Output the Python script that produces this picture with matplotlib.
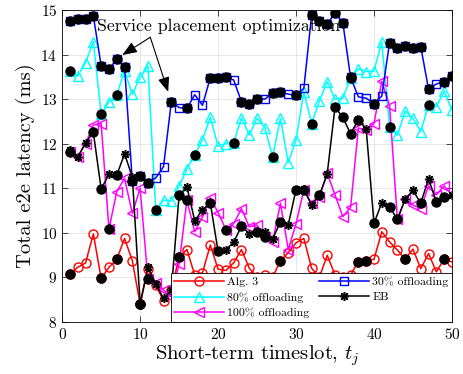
import matplotlib
matplotlib.use("Agg")
import matplotlib.pyplot as plt
import numpy as np

plt.rcParams['font.family'] = 'serif'
plt.rcParams['font.serif'] = ['cmr10', 'DejaVu Serif']
plt.rcParams['mathtext.fontset'] = 'cm'
plt.rcParams['axes.formatter.use_mathtext'] = True

# short-term timeslots
t = np.arange(1, 51)

alg3 = [9.08, 9.22, 9.32, 9.97, 8.97, 9.22, 9.40, 9.87, 9.37, 8.39,
        9.19, 8.82, 8.47, 8.70, 9.45, 9.62, 9.05, 9.10, 9.72, 9.18,
        9.15, 9.32, 9.62, 9.20, 9.00, 9.05, 9.00, 9.37, 9.55, 9.77,
        9.87, 9.20, 9.00, 9.49, 9.05, 9.00, 9.05, 9.35, 9.37, 9.40,
        10.02, 9.79, 9.61, 9.40, 9.63, 9.19, 9.53, 9.12, 9.40, 9.34]
off30 = [14.76, 14.79, 14.81, 14.87, 13.75, 13.68, 13.89, 13.73, 11.15, 11.27,
         11.12, 11.23, 11.48, 12.93, 12.81, 12.79, 13.10, 12.86, 13.48, 13.48,
         13.50, 13.43, 12.94, 12.89, 13.00, 13.00, 13.13, 13.16, 13.11, 13.09,
         13.24, 14.89, 14.75, 14.69, 14.93, 14.72, 13.49, 13.05, 13.02, 12.90,
         13.07, 14.27, 14.14, 14.20, 14.15, 14.18, 13.22, 13.34, 13.39, 13.52]
off80 = [13.63, 13.52, 13.82, 14.29, 12.66, 12.94, 13.09, 13.64, 13.11, 13.49,
         13.74, 10.51, 10.73, 10.71, 11.05, 11.43, 11.74, 12.09, 12.59, 11.94,
         12.00, 12.02, 12.58, 12.19, 12.57, 12.36, 11.70, 12.57, 11.57, 12.08,
         13.16, 12.45, 12.96, 13.39, 13.00, 13.02, 13.47, 13.68, 13.62, 13.63,
         14.29, 12.37, 12.19, 12.73, 12.57, 12.27, 12.87, 12.83, 13.18, 12.75]
eb = [11.85, 11.70, 12.02, 12.25, 10.98, 11.31, 11.29, 11.77, 11.25, 8.40,
      9.23, 8.85, 8.52, 8.70, 10.84, 11.03, 10.27, 10.51, 10.67, 9.58,
      9.62, 9.78, 10.15, 9.98, 10.02, 10.02, 9.86, 10.24, 10.18, 10.96,
      10.97, 10.62, 10.84, 11.32, 12.82, 12.59, 12.22, 12.54, 12.33, 10.21,
      10.67, 10.58, 10.30, 10.75, 10.95, 10.66, 11.21, 10.69, 10.80, 10.84]
off100 = [11.82, 11.70, 12.00, 12.42, 12.45, 10.08, 10.92, 11.22, 10.43, 11.00,
          8.95, 8.86, 8.71, 8.55, 9.30, 10.73, 10.02, 10.35, 10.78, 10.45,
          10.07, 10.20, 10.54, 10.13, 10.17, 9.90, 9.79, 10.66, 9.62, 10.20,
          10.96, 10.66, 10.80, 11.33, 10.85, 10.36, 10.57, 12.35, 12.30, 12.45,
          13.40, 12.85, 10.30, 10.75, 10.62, 10.54, 11.05, 10.85, 11.05, 10.85]

# timeslots where service placement optimization happens (black dots)
opt_alg3 = [1, 5, 7, 10, 15, 28, 38, 39, 44, 49]
opt_off30 = [1, 2, 3, 4, 5, 6, 7, 8, 9, 10, 11, 14, 16, 19, 20, 21, 23, 24, 25,
             27, 28, 30, 32, 33, 34, 35, 36, 37, 40, 42, 43, 44, 45, 46, 47, 49, 50]
opt_off80 = [1, 5, 7, 12, 17, 22, 27, 32, 37, 42, 47]
opt_eb = [4, 5, 7, 10, 15, 19, 20, 23, 25, 28, 30, 33, 35, 36, 37, 38, 40, 42,
          43, 46, 48, 49]
opt_off100 = [1, 6, 11, 16, 21, 26, 31]

fig = plt.figure(figsize=(4.64, 3.74), dpi=100)
ax = fig.add_axes([0.134, 0.14, 0.84, 0.833])

lw = 1.1
ms = 6.5
h_alg3, = ax.plot(t, alg3, '-o', color='#ff0000', mfc='none', lw=lw, ms=ms, label='Alg. 3')
h_80, = ax.plot(t, off80, '-^', color='#00ffff', mfc='none', lw=lw, ms=ms, label='80% offloading')
h_100, = ax.plot(t, off100, '-<', color='#ff00ff', mfc='none', lw=lw, ms=ms, label='100% offloading')
h_30, = ax.plot(t, off30, '-s', color='#0000ff', mfc='none', lw=lw, ms=5.5, label='30% offloading')
h_eb, = ax.plot(t, eb, '-', color='k', lw=lw, marker=(8, 2, 0), ms=6.5, mew=1.1, label='EB')

for vals, idx in [(alg3, opt_alg3), (off30, opt_off30), (off80, opt_off80),
                  (eb, opt_eb), (off100, opt_off100)]:
    vals = np.array(vals)
    idx = np.array(idx)
    ax.plot(idx, vals[idx - 1], 'o', color='k', ms=6.5, zorder=5)

ax.set_xlim(0, 50)
ax.set_ylim(8, 15)
ax.set_xticks(np.arange(0, 51, 10))
ax.set_yticks(np.arange(8, 16, 1))
ax.grid(True, color='#e3e3e3', lw=0.6)
ax.set_axisbelow(True)
ax.tick_params(direction='in', top=True, right=True, labelsize=11, length=4, width=0.5)
for s in ax.spines.values():
    s.set_linewidth(0.6)

ax.set_xlabel('Short-term timeslot, $t_j$', fontsize=14.8, labelpad=1)
ax.set_ylabel('Total e2e latency (ms)', fontsize=14.8, labelpad=3)

ax.text(4.5, 14.63, 'Service placement optimization', fontsize=12.8, va='center', zorder=6)
arrow = dict(arrowstyle='-|>,head_length=0.9,head_width=0.35', color='k', lw=0.8,
             shrinkA=0, shrinkB=0)
ax.annotate('', xy=(7.7, 13.99), xytext=(11.3, 14.39), arrowprops=arrow, zorder=6)
ax.annotate('', xy=(13.6, 13.16), xytext=(11.3, 14.39), arrowprops=arrow, zorder=6)

leg = ax.legend(handles=[h_alg3, h_80, h_100, h_30, h_eb], loc='lower right', ncol=2,
                fontsize=8.5, handlelength=4.2, handletextpad=0.3, columnspacing=0.8,
                labelspacing=0.4, borderpad=0.3, borderaxespad=0, fancybox=False,
                framealpha=1, edgecolor='k')
leg.get_frame().set_linewidth(0.6)
leg.set_zorder(10)

fig.savefig('out.png', dpi=100)
